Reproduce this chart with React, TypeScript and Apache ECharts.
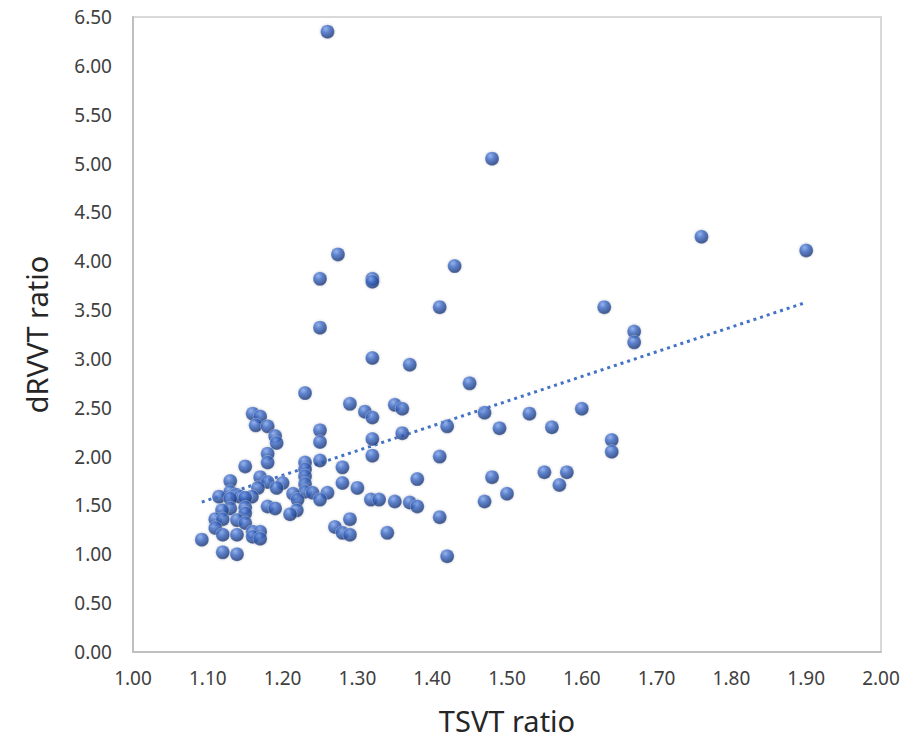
import React, { useEffect, useRef } from "react";
import * as echarts from "echarts";

// TSVT ratio (x) and dRVVT ratio (y)
const tsvt: number[] = [
  1.26, 1.48, 1.76, 1.90, 1.274, 1.43, 1.25, 1.32, 1.32, 1.41,
  1.63, 1.25, 1.67, 1.67, 1.32, 1.37, 1.45, 1.23, 1.29, 1.35,
  1.36, 1.60, 1.31, 1.16, 1.47, 1.53, 1.17, 1.32, 1.164, 1.18,
  1.42, 1.49, 1.56, 1.25, 1.36, 1.19, 1.32, 1.64, 1.25, 1.192,
  1.64, 1.18, 1.32, 1.41, 1.25, 1.23, 1.18, 1.15, 1.28, 1.23,
  1.55, 1.58, 1.23, 1.17, 1.48, 1.38, 1.13, 1.18, 1.20, 1.28,
  1.23, 1.57, 1.192, 1.167, 1.30, 1.13, 1.23, 1.24, 1.214, 1.26,
  1.50, 1.138, 1.115, 1.143, 1.159, 1.15, 1.13, 1.22, 1.25, 1.318,
  1.329, 1.35, 1.47, 1.37, 1.38, 1.18, 1.15, 1.13, 1.19, 1.119,
  1.219, 1.15, 1.21, 1.41, 1.11, 1.12, 1.29, 1.139, 1.15, 1.27,
  1.11, 1.16, 1.17, 1.28, 1.34, 1.12, 1.139, 1.29, 1.16, 1.17,
  1.092, 1.12, 1.139, 1.42,
];
const drvvt: number[] = [
  6.35, 5.05, 4.25, 4.11, 4.07, 3.95, 3.82, 3.82, 3.79, 3.53,
  3.53, 3.32, 3.28, 3.17, 3.01, 2.94, 2.75, 2.65, 2.54, 2.53,
  2.49, 2.49, 2.46, 2.44, 2.45, 2.44, 2.41, 2.40, 2.32, 2.31,
  2.31, 2.29, 2.30, 2.27, 2.24, 2.21, 2.18, 2.17, 2.15, 2.14,
  2.05, 2.03, 2.01, 2.00, 1.96, 1.94, 1.94, 1.90, 1.89, 1.87,
  1.84, 1.84, 1.80, 1.79, 1.79, 1.77, 1.75, 1.74, 1.73, 1.73,
  1.72, 1.71, 1.68, 1.68, 1.68, 1.64, 1.64, 1.63, 1.62, 1.63,
  1.62, 1.61, 1.59, 1.59, 1.59, 1.58, 1.57, 1.56, 1.56, 1.56,
  1.56, 1.54, 1.54, 1.53, 1.49, 1.49, 1.48, 1.47, 1.47, 1.45,
  1.45, 1.42, 1.41, 1.38, 1.36, 1.36, 1.36, 1.35, 1.32, 1.28,
  1.27, 1.23, 1.23, 1.22, 1.22, 1.20, 1.20, 1.20, 1.18, 1.16,
  1.15, 1.02, 1.00, 0.98,
];

const xTitle = "TSVT ratio";
const yTitle = "dRVVT ratio";

function linearFit(xs: number[], ys: number[]) {
  const n = xs.length;
  let sx = 0, sy = 0, sxx = 0, sxy = 0;
  for (let i = 0; i < n; i++) {
    sx += xs[i]; sy += ys[i]; sxx += xs[i] * xs[i]; sxy += xs[i] * ys[i];
  }
  const slope = (n * sxy - sx * sy) / (n * sxx - sx * sx);
  const intercept = (sy - slope * sx) / n;
  return { slope, intercept };
}

export default function App() {
  const ref = useRef<HTMLDivElement>(null);
  useEffect(() => {
    if (!ref.current) return;
    const chart = echarts.init(ref.current, undefined, { renderer: "svg" });
    const points = tsvt.map((x, i) => [x, drvvt[i]]);
    const { slope, intercept } = linearFit(tsvt, drvvt);
    const xMin = Math.min(...tsvt);
    const xMax = Math.max(...tsvt);
    const trend = [
      [xMin, intercept + slope * xMin],
      [xMax, intercept + slope * xMax],
    ];
    const font = "'Noto Sans', 'Open Sans', sans-serif";
    chart.setOption({
      animation: false,
      backgroundColor: "#ffffff",
      grid: {
        left: 133,
        top: 17,
        width: 748,
        height: 635,
        show: true,
        borderColor: "#d9d9d9",
        borderWidth: 2,
      },
      xAxis: {
        type: "value",
        min: 1.0,
        max: 2.0,
        interval: 0.1,
        name: xTitle,
        nameLocation: "middle",
        nameGap: 54,
        nameTextStyle: { fontFamily: font, fontSize: 29, color: "#262626" },
        axisLine: { show: true, lineStyle: { color: "#bfbfbf", width: 2 } },
        axisTick: { show: false },
        splitLine: { show: false },
        axisLabel: {
          fontFamily: font,
          fontSize: 19,
          color: "#404040",
          margin: 16,
          formatter: (v: number) => v.toFixed(2),
        },
      },
      yAxis: {
        type: "value",
        min: 0,
        max: 6.5,
        interval: 0.5,
        name: yTitle,
        nameLocation: "middle",
        nameGap: 82,
        nameRotate: 90,
        nameTextStyle: { fontFamily: font, fontSize: 29, color: "#262626" },
        axisLine: { show: true, lineStyle: { color: "#bfbfbf", width: 2 } },
        axisTick: { show: false },
        splitLine: { show: false },
        axisLabel: {
          fontFamily: font,
          fontSize: 19,
          color: "#404040",
          margin: 21,
          formatter: (v: number) => v.toFixed(2),
        },
      },
      series: [
        {
          type: "line",
          data: trend,
          symbol: "none",
          silent: true,
          z: 1,
          lineStyle: { color: "#4472c4", width: 3, type: [3, 4] },
        },
        {
          type: "scatter",
          data: points,
          symbol: "circle",
          symbolSize: 14,
          z: 3,
          itemStyle: {
            color: new echarts.graphic.RadialGradient(0.38, 0.3, 0.72, [
              { offset: 0, color: "#86a8ec" },
              { offset: 0.4, color: "#3f6cc8" },
              { offset: 1, color: "#1a3470" },
            ]),
            borderColor: "rgba(255,255,255,0.7)",
            borderWidth: 0.5,
            shadowColor: "rgba(0,0,0,0.25)",
            shadowBlur: 2,
          },
        },
      ],
    });
    return () => chart.dispose();
  }, []);
  return (
    <div
      ref={ref}
      style={{ position: "fixed", left: 0, top: 0, width: 911, height: 749 }}
    />
  );
}
